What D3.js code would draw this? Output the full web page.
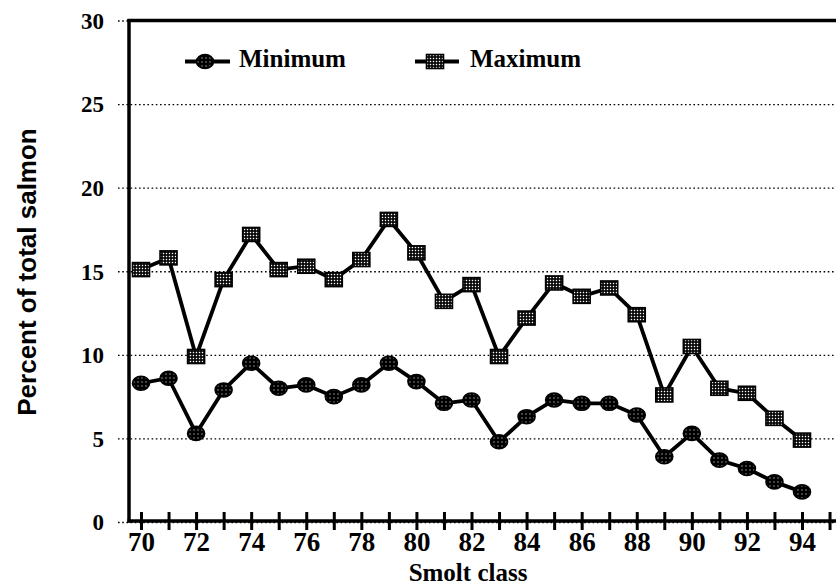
<!DOCTYPE html>
<html>
<head>
<meta charset="utf-8">
<script src="https://cdn.jsdelivr.net/npm/d3@7"></script>
<style>
  html, body { margin: 0; padding: 0; background: #fff; }
  svg { display: block; }
</style>
</head>
<body>
<svg id="chart" width="836" height="588"></svg>
<script>
// Smolt classes (two-digit years)
const years = d3.range(70, 95);

// Percent of total salmon, lower estimate
const minimum = [8.3, 8.6, 5.3, 7.9, 9.5, 8.0, 8.2, 7.5, 8.2, 9.5,
                 8.4, 7.1, 7.3, 4.8, 6.3, 7.3, 7.1, 7.1, 6.4, 3.9,
                 5.3, 3.7, 3.2, 2.4, 1.8];

// Percent of total salmon, upper estimate
const maximum = [15.1, 15.8, 9.9, 14.5, 17.2, 15.1, 15.3, 14.5, 15.7, 18.1,
                 16.1, 13.2, 14.2, 9.9, 12.2, 14.3, 13.5, 14.0, 12.4, 7.6,
                 10.5, 8.0, 7.7, 6.2, 4.9];

const xTicks = d3.range(70, 96);
const xTickLabels = ["70", "72", "74", "76", "78", "80", "82", "84", "86", "88", "90", "92", "94"];
const yTicks = [0, 5, 10, 15, 20, 25, 30];

const seriesNames = ["Minimum", "Maximum"];

const svg = d3.select("#chart");
const serif = "'Liberation Serif', 'Times New Roman', serif";
const sans = "'Liberation Sans', Arial, sans-serif";

// Plot frame
const frame = { left: 129, right: 836, top: 20.5, bottom: 522 };

const x = d3.scaleLinear().domain([70, 94]).range([141, 802]);
const y = d3.scaleLinear().domain([0, 30]).range([frame.bottom, frame.top]);

// Fill patterns for the markers
const defs = svg.append("defs");
const sq = defs.append("pattern").attr("id", "sqFill")
  .attr("patternUnits", "userSpaceOnUse").attr("width", 3).attr("height", 3);
sq.append("rect").attr("width", 3).attr("height", 3).attr("fill", "#000");
sq.append("rect").attr("x", 0.8).attr("y", 0.8).attr("width", 1.4).attr("height", 1.4).attr("fill", "#fff");

const ci = defs.append("pattern").attr("id", "ciFill")
  .attr("patternUnits", "userSpaceOnUse").attr("width", 4).attr("height", 4);
ci.append("rect").attr("width", 4).attr("height", 4).attr("fill", "#000");
ci.append("rect").attr("x", 1.5).attr("y", 1.5).attr("width", 1).attr("height", 1).attr("fill", "#fff");

// Y axis with dotted gridlines
const yAxis = d3.axisLeft(y).tickValues(yTicks).tickSize(11).tickPadding(14).tickFormat(d3.format("d"));
const yg = svg.append("g").attr("transform", `translate(${frame.left},0)`).call(yAxis)
  .attr("font-family", null).attr("font-size", null);
yg.select(".domain").remove();
yg.selectAll(".tick line")
  .attr("x1", -11).attr("x2", frame.right - frame.left)
  .attr("stroke", "#000").attr("stroke-width", 1.3).attr("stroke-dasharray", "1.6,2.6");
yg.selectAll(".tick text")
  .style("font-family", serif).style("font-weight", "bold").style("font-size", "23px")
  .attr("fill", "#000").attr("dy", "0.34em");

// X axis with ticks crossing the axis line
const labelSet = new Set(xTickLabels);
const xAxis = d3.axisBottom(x).tickValues(xTicks).tickSize(9).tickPadding(4)
  .tickFormat(d => labelSet.has(String(d)) ? String(d) : "");
const xg = svg.append("g").attr("transform", `translate(0,${frame.bottom - 1})`).call(xAxis)
  .attr("font-family", null).attr("font-size", null);
xg.select(".domain").remove();
xg.selectAll(".tick line").attr("y1", -9).attr("y2", 9)
  .attr("stroke", "#000").attr("stroke-width", 3);
xg.selectAll(".tick text")
  .style("font-family", serif).style("font-weight", "bold").style("font-size", "27px")
  .attr("fill", "#000").attr("y", 11).attr("dy", "0.71em");

// Solid frame lines: left axis, top border, bottom axis
svg.append("line").attr("x1", frame.left).attr("x2", frame.left)
  .attr("y1", frame.top - 1.5).attr("y2", frame.bottom + 0.5)
  .attr("stroke", "#000").attr("stroke-width", 3.5);
svg.append("line").attr("x1", frame.left - 1.5).attr("x2", frame.right)
  .attr("y1", frame.top).attr("y2", frame.top)
  .attr("stroke", "#000").attr("stroke-width", 3.5);
svg.append("line").attr("x1", frame.left - 1.5).attr("x2", frame.right)
  .attr("y1", frame.bottom - 1).attr("y2", frame.bottom - 1)
  .attr("stroke", "#000").attr("stroke-width", 3.5);

// Series lines
const line = d3.line().x((d, i) => x(years[i])).y(d => y(d));
[maximum, minimum].forEach(vals => {
  svg.append("path").datum(vals).attr("d", line)
    .attr("fill", "none").attr("stroke", "#000").attr("stroke-width", 3.8)
    .attr("stroke-linejoin", "round");
});

// Markers
svg.append("g").selectAll("rect").data(maximum).join("rect")
  .attr("x", (d, i) => x(years[i]) - 8.5).attr("y", d => y(d) - 7)
  .attr("width", 17).attr("height", 14)
  .attr("fill", "url(#sqFill)").attr("stroke", "#000").attr("stroke-width", 1.6);

svg.append("g").selectAll("ellipse").data(minimum).join("ellipse")
  .attr("cx", (d, i) => x(years[i])).attr("cy", d => y(d))
  .attr("rx", 8.5).attr("ry", 7)
  .attr("fill", "url(#ciFill)").attr("stroke", "#000").attr("stroke-width", 1.6);

// Legend
const legend = svg.append("g");
const legendItems = [
  { name: seriesNames[0], x0: 185, x1: 230, mx: 205, shape: "circle", tx: 239 },
  { name: seriesNames[1], x0: 415, x1: 459, mx: 435, shape: "square", tx: 470 }
];
const ly = 61.5;
legendItems.forEach(it => {
  legend.append("line").attr("x1", it.x0).attr("x2", it.x1).attr("y1", ly).attr("y2", ly)
    .attr("stroke", "#000").attr("stroke-width", 3.8);
  if (it.shape === "circle") {
    legend.append("ellipse").attr("cx", it.mx).attr("cy", ly).attr("rx", 8.5).attr("ry", 7)
      .attr("fill", "url(#ciFill)").attr("stroke", "#000").attr("stroke-width", 1.6);
  } else {
    legend.append("rect").attr("x", it.mx - 8.5).attr("y", ly - 7).attr("width", 17).attr("height", 14)
      .attr("fill", "url(#sqFill)").attr("stroke", "#000").attr("stroke-width", 1.6);
  }
  legend.append("text").attr("x", it.tx).attr("y", 66.5)
    .style("font-family", serif).style("font-weight", "bold").style("font-size", "25px")
    .attr("fill", "#000").text(it.name);
});

// Axis titles
svg.append("text").attr("x", 468).attr("y", 581).attr("text-anchor", "middle")
  .style("font-family", serif).style("font-weight", "bold").style("font-size", "25px")
  .attr("fill", "#000").text("Smolt class");

svg.append("text")
  .attr("transform", "translate(36,272) rotate(-90)")
  .attr("text-anchor", "middle")
  .style("font-family", sans).style("font-weight", "bold").style("font-size", "26px")
  .attr("fill", "#000").text("Percent of total salmon");
</script>
</body>
</html>
